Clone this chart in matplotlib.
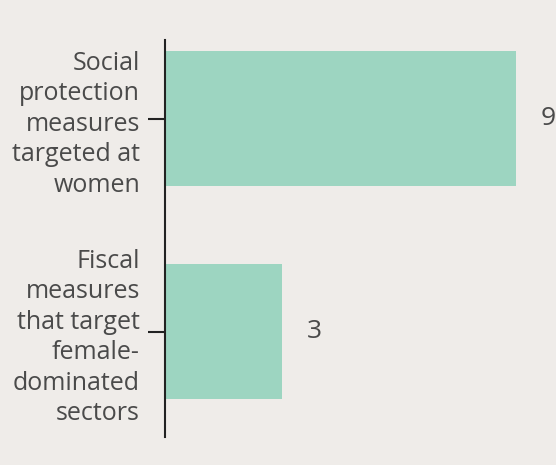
import matplotlib.pyplot as plt

categories = ["Fiscal\nmeasures\nthat target\nfemale-\ndominated\nsectors",
              "Social\nprotection\nmeasures\ntargeted at\nwomen"]
values = [3, 9]

bg = "#efece9"
bar_color = "#9dd5c1"
text_color = "#4a4a4a"
font = "Open Sans"

fig = plt.figure(figsize=(5.56, 4.65), dpi=100, facecolor=bg)
ax = fig.add_axes([165 / 556, 28 / 465, 391 / 556, 397 / 465])
ax.set_facecolor(bg)

pos = list(range(len(categories)))
ax.barh(pos, values, height=0.634, color=bar_color)
for p, v in zip(pos, values):
    ax.annotate(str(v), (v, p), xytext=(25, 0), textcoords="offset pixels",
                va="center", ha="left", fontsize=19, color=text_color,
                family=font)

ax.set_xlim(0, 391 / 39)
ax.set_ylim(-0.495, 1.369)
ax.set_yticks(pos)
ax.set_yticklabels(categories, fontsize=18, color=text_color, family=font,
                   linespacing=1.29, ha="right")
ax.tick_params(axis="y", length=12, width=1.5, color="#222222", pad=6)
ax.set_xticks([])
for s in ["top", "right", "bottom"]:
    ax.spines[s].set_visible(False)
ax.spines["left"].set_linewidth(1.5)
ax.spines["left"].set_color("#222222")

fig.savefig("out.png", dpi=100, facecolor=bg)
